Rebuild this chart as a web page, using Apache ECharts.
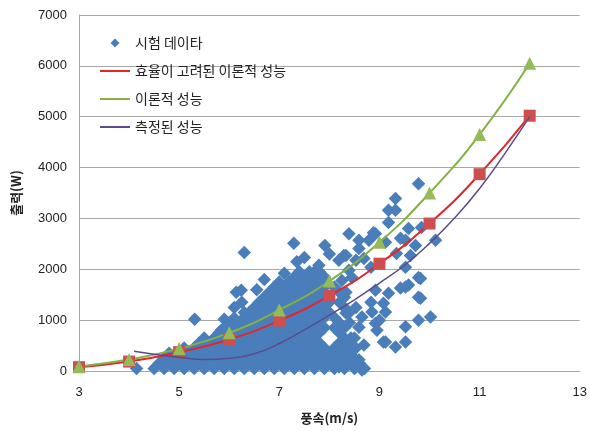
<!DOCTYPE html>
<html><head><meta charset="utf-8">
<script src="https://cdn.jsdelivr.net/npm/echarts@6/dist/echarts.min.js"></script>
<style>html,body{margin:0;padding:0;background:#fff}#c{width:590px;height:431px}</style>
</head><body><div id="c"></div>
<script>
// ---- data ----
const xTickLabels = [3, 5, 7, 9, 11, 13];
const windSpeeds = [3, 4, 5, 6, 7, 8, 9, 10, 11, 12];
const effTheory = [75, 185, 370, 620, 990, 1480, 2110, 2900, 3870, 5020];
const theory = [90, 225, 440, 750, 1200, 1770, 2530, 3500, 4650, 6050];
const measuredX = [4.1, 4.5, 5, 5.5, 6, 6.5, 7, 7.5, 8, 8.5, 9, 9.5, 10, 10.5, 11, 11.5, 12];
const measuredY = [390, 330, 270, 225, 250, 340, 540, 810, 1100, 1400, 1730, 2080, 2510, 3010, 3590, 4270, 5000];
// dense cloud of test data, row by row: [power, [wind speeds]]
const testRows = [
  [50, [4.15, 4.5, 4.7, 4.9, 5.1, 5.3, 5.5, 5.7, 5.9, 6.1, 6.3, 6.5, 6.7, 6.9, 7.1, 7.3, 7.5, 7.7, 7.9, 8.1, 8.3, 8.5, 8.7]],
  [150, [4.6, 4.8, 5.0, 5.2, 5.4, 5.6, 5.8, 6.0, 6.2, 6.4, 6.6, 6.8, 7.0, 7.2, 7.4, 7.6, 7.8, 8.0, 8.2, 8.4, 8.6]],
  [250, [4.7, 4.9, 5.1, 5.3, 5.5, 5.7, 5.9, 6.1, 6.3, 6.5, 6.7, 6.9, 7.1, 7.3, 7.5, 7.7, 7.9, 8.1, 8.3, 8.5]],
  [350, [4.8, 5.0, 5.2, 5.4, 5.6, 5.8, 6.0, 6.2, 6.4, 6.6, 6.8, 7.0, 7.2, 7.4, 7.6, 7.8, 8.0, 8.2, 8.4]],
  [450, [5.1, 5.3, 5.5, 5.7, 5.9, 6.1, 6.3, 6.5, 6.7, 6.9, 7.1, 7.3, 7.5, 7.7, 7.9, 8.1, 8.3]],
  [550, [5.4, 5.6, 5.8, 6.0, 6.2, 6.4, 6.6, 6.8, 7.0, 7.2, 7.4, 7.6, 7.8, 8.2, 8.4]],
  [650, [5.5, 5.7, 5.9, 6.1, 6.3, 6.5, 6.7, 6.9, 7.1, 7.3, 7.5, 7.7, 8.3, 8.5]],
  [750, [5.8, 6.0, 6.2, 6.4, 6.6, 6.8, 7.0, 7.2, 7.4, 7.6, 7.8, 8.2]],
  [850, [5.9, 6.1, 6.3, 6.5, 6.7, 6.9, 7.1, 7.3, 7.5, 7.7, 7.9, 8.1, 8.3]],
  [950, [6.0, 6.2, 6.4, 6.6, 6.8, 7.0, 7.2, 7.4, 7.6, 7.8, 8.2, 8.4]],
  [1050, [6.3, 6.5, 6.7, 6.9, 7.1, 7.3, 7.5, 7.7, 7.9, 8.1]],
  [1150, [6.4, 6.6, 6.8, 7.0, 7.2, 7.4, 7.6, 7.8, 8.0, 8.4]],
  [1250, [6.5, 6.7, 6.9, 7.1, 7.3, 7.5, 7.7, 7.9, 8.3]],
  [1350, [6.6, 6.8, 7.0, 7.2, 7.4, 7.6, 7.8, 8.0, 8.2]],
  [1450, [6.7, 6.9, 7.1, 7.3, 7.5, 7.7, 7.9, 8.3]],
  [1550, [6.8, 7.0, 7.2, 7.4, 7.6, 7.8, 8.2]],
  [1650, [6.9, 7.1, 7.3, 7.5, 7.7, 7.9, 8.1]],
  [1750, [7.0, 7.2, 7.4, 7.6, 7.8]],
  [1850, [7.3, 7.5, 7.7, 7.9]],
  [1950, [7.4, 7.6, 7.8]]
];
// scattered test points [wind speed, power]
const testScattered = [
  [5.31, 1020], [5.84, 800], [5.90, 1020], [6.10, 1040], [6.10, 1250], [6.25, 1350], [6.30, 1150],
  [6.14, 1550], [6.24, 1590], [6.30, 2330], [6.40, 1000], [6.54, 1060], [6.55, 1600], [6.70, 1800],
  [7.29, 2510], [7.91, 2470], [8.39, 2700], [8.33, 2270], [7.10, 1920], [7.73, 1980], [7.79, 2080],
  [7.19, 1750], [7.45, 1720], [7.63, 1780], [7.35, 2150], [7.50, 2230], [8.00, 2300],
  [9.78, 3680], [9.32, 3390], [9.18, 3160], [9.32, 3160], [9.18, 2920], [9.58, 2800], [9.84, 2820],
  [8.92, 2700], [8.88, 2720], [8.59, 2570], [8.79, 2570], [9.12, 2530], [9.42, 2610], [9.52, 2570],
  [8.59, 2410], [9.72, 2470], [10.12, 2570], [8.29, 2270], [8.53, 2180], [8.69, 2210], [9.34, 2310],
  [9.62, 2270], [8.19, 2180], [8.39, 1980], [8.83, 2040], [9.52, 2040], [8.25, 1780], [8.45, 1840],
  [9.78, 1840], [9.82, 1820], [9.52, 1650], [9.18, 1530], [9.42, 1630], [9.58, 1690], [8.33, 1550],
  [8.92, 1590], [9.08, 1330], [8.83, 1350], [9.78, 1450], [9.82, 1430], [8.53, 1250], [8.85, 1160],
  [8.33, 1140], [8.65, 1060], [9.12, 1160], [9.78, 1000], [10.02, 1060], [8.19, 940], [8.92, 940],
  [8.59, 860], [9.52, 870], [8.95, 800], [9.00, 1000], [8.43, 650], [9.12, 570], [9.08, 570],
  [9.32, 470], [9.52, 570], [8.25, 410], [8.53, 450], [8.69, 510], [8.33, 220], [8.53, 80],
  [8.65, 20], [8.59, 220], [8.19, 80]
];

// ---- build ----
const testData = [];
testRows.forEach(r => r[1].forEach(x => testData.push([x, r[0]])));
testScattered.forEach(p => testData.push(p));
const effData = windSpeeds.map((x, i) => [x, effTheory[i]]);
const theoryData = windSpeeds.map((x, i) => [x, theory[i]]);
const measuredData = measuredX.map((x, i) => [x, measuredY[i]]);

const NAME_TEST = '시험 데이타';
const NAME_EFF = '효율이 고려된 이론적 성능';
const NAME_TH = '이론적 성능';
const NAME_MEAS = '측정된 성능';
const gridColor = '#a8a8a8';
const numFont = 'Liberation Sans, Arial, sans-serif';
const krFont = 'Noto Sans CJK KR, sans-serif';
const lineIcon = 'path://M0,0 L0,0 M0,4 L30,4 L30,6 L0,6 Z M30,10 L30,10';
const diamondIcon = 'path://M0,0 L0,0 M15,0.5 L19.5,5 L15,9.5 L10.5,5 Z M30,10 L30,10';

const chart = echarts.init(document.getElementById('c'), null, {renderer: 'canvas'});
chart.setOption({
  animation: false,
  backgroundColor: '#fff',
  grid: {left: 79, right: 8, top: 15, bottom: 60},
  legend: {
    orient: 'vertical', left: 95, top: 31, itemGap: 14, itemWidth: 30, itemHeight: 10,
    textStyle: {fontSize: 14, color: '#222', fontFamily: krFont},
    data: [
      {name: NAME_TEST, icon: diamondIcon, itemStyle: {color: '#4a7ebb'}},
      {name: NAME_EFF, icon: lineIcon, itemStyle: {color: '#e3262b'}},
      {name: NAME_TH, icon: lineIcon, itemStyle: {color: '#84b044'}},
      {name: NAME_MEAS, icon: lineIcon, itemStyle: {color: '#5c4a8c'}}
    ]
  },
  xAxis: {
    type: 'value', min: 3, max: 13,
    name: '풍속(m/s)', nameLocation: 'middle', nameGap: 41,
    nameTextStyle: {fontSize: 13, fontWeight: 'bold', color: '#222', fontFamily: krFont},
    axisLine: {show: true, lineStyle: {color: gridColor, width: 1}},
    axisTick: {show: false},
    splitLine: {show: false},
    axisLabel: {customValues: xTickLabels, fontSize: 13, color: '#222', margin: 15, fontFamily: numFont}
  },
  yAxis: {
    type: 'value', min: 0, max: 7000, interval: 1000,
    name: '출력(W)', nameLocation: 'middle', nameGap: 56, nameRotate: 90,
    nameTextStyle: {fontSize: 13, fontWeight: 'bold', color: '#222', fontFamily: krFont},
    axisLine: {show: true, lineStyle: {color: gridColor, width: 1}},
    axisTick: {show: false},
    splitLine: {show: true, lineStyle: {color: gridColor, width: 1}},
    axisLabel: {fontSize: 13, color: '#222', margin: 12, fontFamily: numFont,
      formatter: v => String(v)}
  },
  series: [
    {name: NAME_TEST, type: 'scatter', data: testData, symbol: 'diamond', symbolSize: 13.5,
      itemStyle: {color: '#4a7ebb', opacity: 1}, z: 2},
    {name: NAME_EFF, type: 'line', data: effData, smooth: true, symbol: 'none',
      lineStyle: {color: '#e3262b', width: 2}, itemStyle: {color: '#e3262b'}, z: 3},
    {name: 'eff-markers', type: 'scatter', data: effData, symbol: 'rect', symbolSize: 12,
      itemStyle: {color: '#cd4f4f', opacity: 1}, z: 4},
    {name: NAME_TH, type: 'line', data: theoryData, smooth: true, symbol: 'none',
      lineStyle: {color: '#84b044', width: 2}, itemStyle: {color: '#84b044'}, z: 3},
    {name: 'th-markers', type: 'scatter', data: theoryData, symbol: 'triangle', symbolSize: 13,
      itemStyle: {color: '#94bb58', opacity: 1}, z: 4},
    {name: NAME_MEAS, type: 'line', data: measuredData, smooth: true, symbol: 'none',
      lineStyle: {color: '#5c4a8c', width: 1.5}, itemStyle: {color: '#5c4a8c'}, z: 5}
  ]
});
</script></body></html>
